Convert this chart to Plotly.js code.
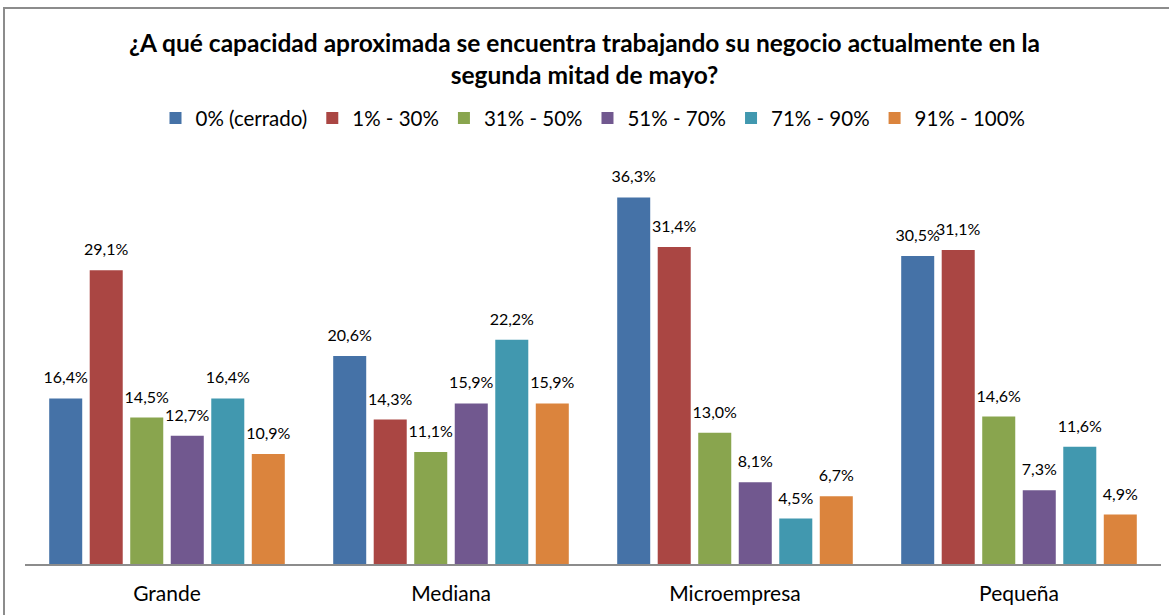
<!DOCTYPE html>
<html><head><meta charset="utf-8">
<script src="https://cdn.plot.ly/plotly-3.0.1.min.js"></script>
<style>body{margin:0;padding:0;background:#fff;}#frame{position:absolute;left:3px;top:7px;width:1166px;height:608px;border-top:2px solid #8c8c8c;border-left:2px solid #8c8c8c;pointer-events:none;}</style>
</head><body>
<div id="chart" style="width:1169px;height:615px;"></div>
<div id="frame"></div>
<script>
const categories = ["Grande", "Mediana", "Microempresa", "Pequeña"];
const seriesNames = ["0% (cerrado)", "1% - 30%", "31% - 50%", "51% - 70%", "71% - 90%", "91% - 100%"];
const cerrado = [16.4, 20.6, 36.3, 30.5];
const p1_30 = [29.1, 14.3, 31.4, 31.1];
const p31_50 = [14.5, 11.1, 13.0, 14.6];
const p51_70 = [12.7, 15.9, 8.1, 7.3];
const p71_90 = [16.4, 22.2, 4.5, 11.6];
const p91_100 = [10.9, 15.9, 6.7, 4.9];
const seriesValues = [cerrado, p1_30, p31_50, p51_70, p71_90, p91_100];
const colors = ["#4572A7", "#AA4643", "#89A54E", "#71588F", "#4198AF", "#DB843D"];

const bars = seriesNames.map((n, i) => ({
  type: "bar", name: n, x: categories, y: seriesValues[i],
  marker: {color: colors[i]}, offsetgroup: "g" + i,
  hoverinfo: "x+y+name"
}));
const labels = seriesNames.map((n, i) => ({
  type: "scatter", mode: "markers+text", name: n, x: categories, y: seriesValues[i],
  offsetgroup: "g" + i, showlegend: false,
  marker: {size: 16, opacity: 0, color: colors[i]},
  texttemplate: "%{y:.1f}%", textposition: "top center",
  textfont: {size: 16, color: "#000"}, cliponaxis: false, hoverinfo: "skip"
}));

const layout = {
  width: 1169, height: 615,
  margin: {l: 25, r: 8, t: 150, b: 51},
  separators: ",.",
  font: {family: "Lato, 'Open Sans', sans-serif", color: "#000"},
  title: {text: "<b>¿A qué capacidad aproximada se encuentra trabajando su negocio actualmente en la<br>segunda mitad de mayo?</b>",
          font: {size: 24.5, color: "#000"}, x: 0.5, xanchor: "center", y: 0.915, yanchor: "middle"},
  barmode: "group", bargap: 0.144, bargroupgap: 0.185,
  scattermode: "group", scattergap: 0.144,
  showlegend: true,
  legend: {orientation: "h", x: 0.5, xanchor: "center", y: 1.077, yanchor: "middle", font: {size: 20.5}, itemwidth: 30, traceorder: "normal"},
  xaxis: {showline: true, linecolor: "#8c8c8c", linewidth: 1.5, ticks: "", tickfont: {size: 21}, ticklabelstandoff: 10},
  yaxis: {range: [0, 41], visible: false, showgrid: false, zeroline: false},
  plot_bgcolor: "#fff", paper_bgcolor: "#fff"
};
Plotly.newPlot("chart", bars.concat(labels), layout, {displayModeBar: false});
</script>
</body></html>
